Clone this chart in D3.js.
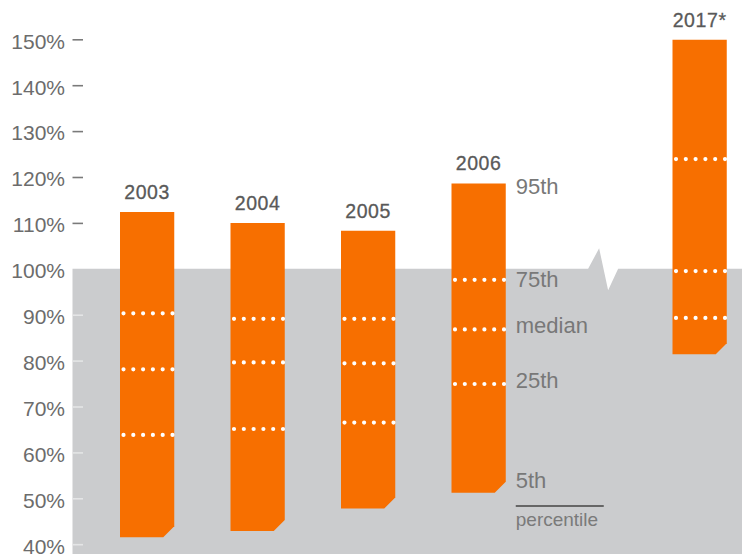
<!DOCTYPE html>
<html>
<head>
<meta charset="utf-8">
<script src="https://cdn.jsdelivr.net/npm/d3@7"></script>
<style>
  html, body { margin: 0; padding: 0; background: #fff; }
  svg { display: block; font-family: "Helvetica Neue", Helvetica, Arial, "Liberation Sans", sans-serif; }
</style>
</head>
<body>
<svg></svg>
<script>
// percentile values (percent)
let years = ['2003', '2004', '2005', '2006', '2017*']
let p95 = [112.4, 110.0, 108.3, 118.6, 149.9]
let p75 = [90.3, 89.1, 89.1, 97.6, 123.9]
let median = [78.1, 79.6, 79.4, 86.8, 99.5]
let p25 = [63.8, 65.1, 66.5, 74.9, 89.3]
let p5 = [41.5, 42.9, 47.8, 51.2, 81.4]

let yTicks = [40, 50, 60, 70, 80, 90, 100, 110, 120, 130, 140, 150]
let legendNames = ['95th', '75th', 'median', '25th', '5th']
let legendSeries = [p95, p75, median, p25, p5]

let width = 742
let height = 554
let orange = '#f76f00'
let grey = '#cbccce'

let svg = d3.select('svg')
    .attr('width', width)
    .attr('height', height)

let values = years.map((year, i) => ({
    year: year,
    p95: p95[i],
    p75: p75[i],
    median: median[i],
    p25: p25[i],
    p5: p5[i]
}))

// 'gap' is an empty slot where the axis break sits
let xScale = d3.scaleBand()
    .domain(['2003', '2004', '2005', '2006', 'gap', '2017*'])
    .range([120, 120 + 110.5 * 5.491])
    .paddingInner(0.509)
    .paddingOuter(0)

let yScale = d3.scaleLinear()
    .domain([40, 150])
    .range([544.2, 39.3])

let bw = xScale.bandwidth()

// grey area below 100%, with the zig-zag break
let breakMid = (xScale('2006') + bw + xScale('2017*')) / 2
let y100 = yScale(100)
let area = d3.path()
area.moveTo(72.5, y100)
area.lineTo(breakMid - 1, y100)
area.lineTo(breakMid + 10, y100 - 20.5)
area.lineTo(breakMid + 19, y100 + 21.5)
area.lineTo(breakMid + 29, y100)
area.lineTo(width, y100)
area.lineTo(width, height)
area.lineTo(72.5, height)
area.closePath()

svg.append('path')
    .attr('d', area.toString())
    .attr('fill', grey)

// y axis
let yAxis = d3.axisLeft(yScale)
    .tickValues(yTicks)
    .tickFormat(d => d + '%')
    .tickSize(-10.5)
    .tickPadding(7.5)

let axisG = svg.append('g')
    .attr('transform', 'translate(72.5, 0)')
    .call(yAxis)

axisG.select('.domain').remove()
axisG.selectAll('.tick line')
    .attr('stroke', d => d > 100 ? '#7a7a7a' : (d == 100 ? 'none' : '#e4e5e6'))
    .attr('stroke-width', 1.6)
axisG.selectAll('.tick text')
    .attr('fill', '#6c6c6c')
    .attr('font-size', 21)
    .attr('dy', '0.42em')
    .style('font-family', 'inherit')

// bars with clipped bottom-right corner
let cut = 11
svg.selectAll('.bar')
    .data(values)
    .enter()
    .append('path')
    .attr('class', 'bar')
    .attr('fill', orange)
    .attr('d', d => {
        let x0 = xScale(d.year)
        let x1 = x0 + bw
        let top = yScale(d.p95)
        let bottom = yScale(d.p5)
        return 'M' + x0 + ',' + top + 'H' + x1 + 'V' + (bottom - cut) +
            'L' + (x1 - cut) + ',' + bottom + 'H' + x0 + 'Z'
    })

// dotted quartile lines
let dotted = []
values.forEach(d => {
    ['p75', 'median', 'p25'].forEach(k => dotted.push({ year: d.year, v: d[k] }))
})

svg.selectAll('.dots')
    .data(dotted)
    .enter()
    .append('line')
    .attr('class', 'dots')
    .attr('x1', d => xScale(d.year) + 3.5)
    .attr('x2', d => xScale(d.year) + bw + 1)
    .attr('y1', d => yScale(d.v))
    .attr('y2', d => yScale(d.v))
    .attr('stroke', '#fff')
    .attr('stroke-width', 4.2)
    .attr('stroke-linecap', 'round')
    .attr('stroke-dasharray', '0 9.8')

// year labels
svg.selectAll('.year')
    .data(values)
    .enter()
    .append('text')
    .attr('class', 'year')
    .attr('x', d => xScale(d.year) + bw / 2)
    .attr('y', d => yScale(d.p95) - 13)
    .attr('text-anchor', 'middle')
    .attr('font-size', 19.5)
    .attr('letter-spacing', 0.6)
    .attr('fill', '#595959')
    .attr('stroke', '#595959')
    .attr('stroke-width', 0.3)
    .text(d => d.year)

// percentile legend next to 2006
let legendX = xScale('2006') + bw + 10
let legendShift = [10.7, 7.3, 4, 3.7, -4.5]
let i2006 = years.indexOf('2006')

svg.selectAll('.legend')
    .data(legendNames)
    .enter()
    .append('text')
    .attr('class', 'legend')
    .attr('x', legendX)
    .attr('y', (d, i) => yScale(legendSeries[i][i2006]) + legendShift[i])
    .attr('font-size', 22)
    .attr('fill', '#787878')
    .text(d => d)

let lineY = yScale(p5[i2006]) + 13.3
svg.append('line')
    .attr('x1', legendX)
    .attr('x2', legendX + 88)
    .attr('y1', lineY)
    .attr('y2', lineY)
    .attr('stroke', '#666')
    .attr('stroke-width', 2)

svg.append('text')
    .attr('x', legendX)
    .attr('y', lineY + 20)
    .attr('font-size', 19)
    .attr('fill', '#7a7a7a')
    .text('percentile')
</script>
</body>
</html>
